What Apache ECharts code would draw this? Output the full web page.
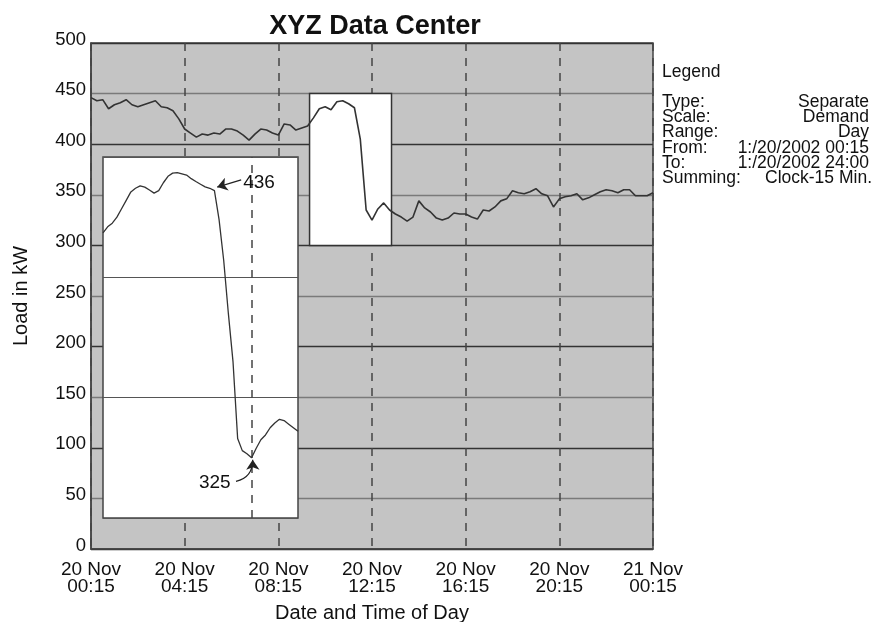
<!DOCTYPE html>
<html>
<head>
<meta charset="utf-8">
<title>XYZ Data Center</title>
<script src="https://cdn.jsdelivr.net/npm/echarts@6/dist/echarts.min.js"></script>
<style>
  html, body { margin: 0; background: #fff; }
  #chart { width: 874px; height: 622px; }
</style>
</head>
<body>
<div id="chart"></div>
<script>
// x values are hours counted from 20 Nov 00:15
const tickLabels = ['20 Nov\n00:15', '20 Nov\n04:15', '20 Nov\n08:15', '20 Nov\n12:15',
  '20 Nov\n16:15', '20 Nov\n20:15', '21 Nov\n00:15']

// 15-minute demand readings, kW
const loadKw = [
  446, 443, 444, 435, 439, 441, 444, 439, 437, 439,
  441, 443, 437, 436, 433, 425, 415, 411, 407, 410,
  409, 411, 410, 415, 415, 413, 409, 404, 410, 415,
  414, 411, 409, 420, 419, 414, 416, 418, 426, 435,
  437, 434, 442, 443, 440, 436, 405, 335, 325, 336,
  342, 335, 331, 328, 324, 328, 344, 337, 333, 327,
  325, 327, 332, 331, 331, 328, 326, 335, 334, 338,
  344, 346, 354, 352, 351, 353, 356, 351, 349, 338,
  346, 348, 349, 351, 345, 347, 350, 353, 355, 354,
  352, 355, 355, 349, 349, 349, 352
]

// zoomed window 09:35 - 13:05, 5-minute readings
const zoomFrom = 9 + 20 / 60
const zoomTo = 12 + 50 / 60
const zoomLoadKw = [
  418.5, 421, 422.5, 425, 428.5, 432, 435.5, 437, 438, 437.5,
  436.3, 435, 436, 439.3, 442, 443.3, 443.5, 443, 442.5, 441,
  439.8, 438.7, 437.6, 437, 436, 424, 407, 385, 365, 333,
  328, 326.7, 325, 329, 332.5, 334.5, 337.5, 339.5, 341, 340.5,
  339, 337.5, 336
]
const zoomLow = 300
const zoomHigh = 450
const peakAt = 11 + 20 / 60
const peakKw = 436
const dipAt = 12
const dipKw = 325

const legendKeys = ['Type:', 'Scale:', 'Range:', 'From:', 'To:', 'Summing:']
const legendValues = ['Separate', 'Demand', 'Day', '1:/20/2002 00:15', '1:/20/2002 24:00', 'Clock-15 Min.']

const font = '"Liberation Sans", Arial, Helvetica, sans-serif'
const ink = '#111'

const mainPoints = loadKw.map((v, i) => [i * 0.25, v])
const zoomPoints = zoomLoadKw.map((v, i) => [zoomFrom + i * 5 / 60, v])

const chart = echarts.init(document.getElementById('chart'), null, { renderer: 'canvas' })

// legend block on the right
const legendText = [{
  type: 'text', left: 662, top: 63,
  style: { text: 'Legend', font: '17.5px ' + font, fill: ink }
}]
legendKeys.forEach((k, i) => {
  legendText.push({
    type: 'text', left: 662, top: 93 + i * 15.3,
    style: { text: k, font: '17.5px ' + font, fill: ink }
  })
  legendText.push({
    type: 'text', right: i === legendKeys.length - 1 ? 2 : 5, top: 93 + i * 15.3,
    style: { text: legendValues[i], font: '17.5px ' + font, fill: ink, textAlign: 'right' }
  })
})

chart.setOption({
  animation: false,
  textStyle: { fontFamily: font },
  title: {
    text: 'XYZ Data Center',
    left: 370, top: 8, textAlign: 'center',
    textStyle: { fontSize: 27, fontWeight: 'bold', color: ink, fontFamily: font }
  },
  graphic: legendText,
  grid: [
    {
      left: 91, top: 43, width: 562, height: 506, outerBoundsMode: 'none',
      show: true, backgroundColor: '#c4c4c4', borderColor: '#444', borderWidth: 1.5
    },
    {
      left: 103, top: 157, width: 195, height: 361, z: 3, outerBoundsMode: 'none',
      show: true, backgroundColor: '#fff', borderColor: '#444', borderWidth: 1.5
    }
  ],
  xAxis: [
    {
      type: 'value', gridIndex: 0, min: 0, max: 24, interval: 4,
      axisLine: { show: true, lineStyle: { color: '#444', width: 1.5 } },
      axisTick: { show: false },
      axisLabel: {
        margin: 12, fontSize: 19, lineHeight: 17.5, color: ink,
        formatter: v => tickLabels[v / 4]
      },
      splitLine: { show: true, lineStyle: { color: '#444', width: 1.5, type: [8, 7] } },
      name: 'Date and Time of Day', nameLocation: 'middle', nameGap: 54,
      nameTextStyle: { fontSize: 20, color: ink }
    },
    {
      type: 'value', gridIndex: 1, min: zoomFrom, max: zoomTo, z: 4,
      axisLine: { show: false }, axisTick: { show: false },
      axisLabel: { show: false }, splitLine: { show: false }
    }
  ],
  yAxis: [
    {
      type: 'value', gridIndex: 0, min: 0, max: 500, interval: 50,
      axisLine: { show: true, lineStyle: { color: '#444', width: 1.5 } },
      axisTick: { show: false },
      axisLabel: {
        margin: 5, fontSize: 18.5, color: ink,
        verticalAlign: 'bottom', lineHeight: 7
      },
      splitLine: { show: true, lineStyle: { color: ['#333', '#7a7a7a'], width: 1.3 } },
      name: 'Load in kW', nameLocation: 'middle', nameGap: 60,
      nameTextStyle: { fontSize: 20, color: ink }
    },
    {
      type: 'value', gridIndex: 1, min: zoomLow, max: zoomHigh, interval: 50, z: 4,
      axisLine: { show: false }, axisTick: { show: false },
      axisLabel: { show: false },
      splitLine: { show: true, lineStyle: { color: '#555', width: 1 } }
    }
  ],
  series: [
    {
      type: 'line', xAxisIndex: 0, yAxisIndex: 0, data: mainPoints,
      showSymbol: false, silent: true,
      lineStyle: { color: '#333', width: 1.6 },
      markArea: {
        silent: true,
        itemStyle: { color: '#fff', borderColor: '#333', borderWidth: 1.5 },
        data: [[{ xAxis: zoomFrom, yAxis: zoomLow }, { xAxis: zoomTo, yAxis: zoomHigh }]]
      }
    },
    {
      type: 'line', xAxisIndex: 1, yAxisIndex: 1, data: zoomPoints, z: 5,
      showSymbol: false, silent: true,
      lineStyle: { color: '#333', width: 1.3 },
      markLine: {
        silent: true, symbol: ['none', 'none'],
        label: { show: false },
        data: [
          { xAxis: dipAt, lineStyle: { color: '#444', width: 1.5, type: [8, 7] } }
        ]
      },
      markPoint: {
        silent: true, symbol: 'circle', symbolSize: 0,
        label: { show: true, position: 'inside', fontSize: 19, color: ink, formatter: '{c}' },
        data: [
          { coord: [peakAt + 0.8, peakKw + 3.2], value: peakKw },
          { coord: [dipAt - 0.66, dipKw - 10.4], value: dipKw }
        ]
      }
    },
    {
      // callout arrows for the two annotated readings
      type: 'lines', coordinateSystem: 'cartesian2d', xAxisIndex: 1, yAxisIndex: 1, z: 6,
      silent: true, symbol: ['none', 'arrow'], symbolSize: 10,
      lineStyle: { color: '#222', width: 1.2, opacity: 1 },
      data: [
        { coords: [[peakAt + 0.48, peakKw + 4.5], [peakAt + 0.05, peakKw + 1.5]] },
        {
          coords: [[dipAt - 0.28, dipKw - 9.8], [dipAt + 0.02, dipKw - 0.8]],
          lineStyle: { curveness: -0.4 }
        }
      ]
    }
  ]
})
</script>
</body>
</html>
